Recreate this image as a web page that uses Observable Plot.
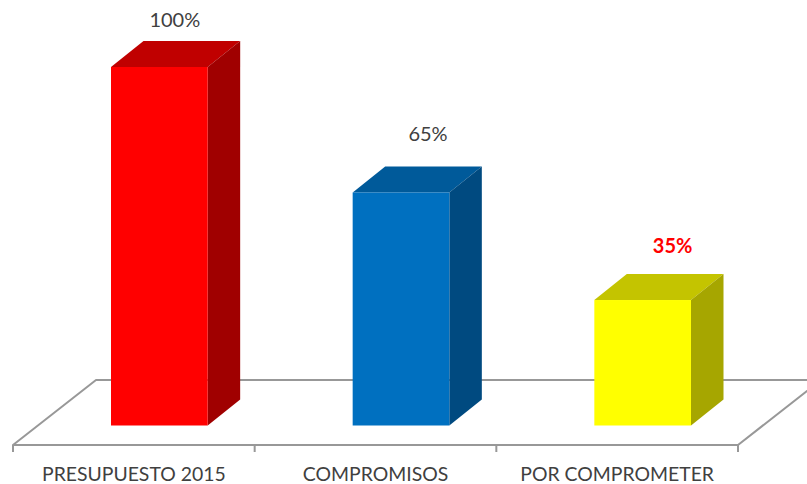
<!DOCTYPE html>
<html>
<head>
<meta charset="utf-8">
<style>html,body{margin:0;padding:0;background:#fff;overflow:hidden}</style>
<script src="https://cdn.jsdelivr.net/npm/d3@7"></script>
<script src="https://cdn.jsdelivr.net/npm/@observablehq/plot@0.6"></script>
</head>
<body>
<script>
const categories = ["PRESUPUESTO 2015", "COMPROMISOS", "POR COMPROMETER"];
const percentages = [100, 65, 35];
const labels = ["100%", "65%", "35%"];
const frontColors = ["#ff0000", "#0070c0", "#ffff00"];
const topColors = ["#c00000", "#005a9a", "#c4c400"];
const sideColors = ["#a00000", "#004a80", "#a6a600"];

const rows = categories.map((name, i) => ({name, value: percentages[i], label: labels[i], i}));

const shiftX = 25.5, depthX = 32.5, depthY = 26;
const floorDX = 83, floorDY = 65, floorFront = 445, tickLen = 7;
const font = "Lato, Carlito, sans-serif";

function floor(index, {x}, values, dims, {document}) {
  const [x0, x1] = x.range();
  const step = x.step();
  const g = d3.select(document.createElementNS("http://www.w3.org/2000/svg", "g"))
    .attr("fill", "none").attr("stroke", "#989898").attr("stroke-width", 2);
  const back = floorFront - floorDY;
  g.append("path").attr("stroke-linejoin", "round").attr("d",
    `M${x0},${floorFront + tickLen}V${floorFront}L${x0 + floorDX},${back}H${x1 + floorDX}L${x1},${floorFront}H${x0}`);
  categories.forEach((_, i) => {
    const t = x0 + step * (i + 1);
    g.append("path").attr("d", `M${t},${floorFront}v${tickLen}`);
  });
  return g.node();
}

function extrude(index, scales, values, dims, context, next) {
  const {x, y} = scales;
  const w = x.bandwidth();
  const ns = "http://www.w3.org/2000/svg";
  const g = d3.select(context.document.createElementNS(ns, "g"));
  for (const i of index) {
    const d = rows[i];
    const l = x(d.name) + shiftX, r = l + w, t = y(d.value), b = y(0);
    g.append("polygon").attr("fill", topColors[i])
      .attr("points", [[l, t], [l + depthX, t - depthY], [r + depthX, t - depthY], [r, t]].join(" "));
    g.append("polygon").attr("fill", sideColors[i])
      .attr("points", [[r, t], [r + depthX, t - depthY], [r + depthX, b - depthY], [r, b]].join(" "));
  }
  g.node().appendChild(next(index, scales, values, dims, context));
  return g.node();
}

const labelText = (i, dx, dy, extra = {}) => Plot.text(rows.filter(d => d.i === i), {
  x: "name", y: "value", text: "label", dx, dy,
  fontFamily: font, fontSize: 20, fill: "#404040", ...extra
});

const chart = Plot.plot({
  width: 807,
  height: 484,
  marginTop: 0, marginLeft: 13, marginRight: 69, marginBottom: 39,
  style: {background: "#fff", overflow: "hidden"},
  x: {domain: categories, range: [13, 738], round: false, paddingInner: 0.6, paddingOuter: 0.3, label: null},
  y: {domain: [0, 100], range: [425.5, 67], label: null, axis: null},
  marks: [
    floor,
    Plot.barY(rows, {x: "name", y: "value", fill: d => frontColors[d.i], dx: shiftX, render: extrude}),
    Plot.axisX({anchor: "bottom", tickSize: 0, tickPadding: 22, dx: -0.5, fontSize: 19.4, fontFamily: font, fill: "#404040", label: null}),
    labelText(0, 40.5, -47),
    labelText(1, 52, -58),
    labelText(2, 55, -54, {fill: "#ff0000", fontWeight: "bold"})
  ]
});
document.body.appendChild(chart);
</script>
</body>
</html>
